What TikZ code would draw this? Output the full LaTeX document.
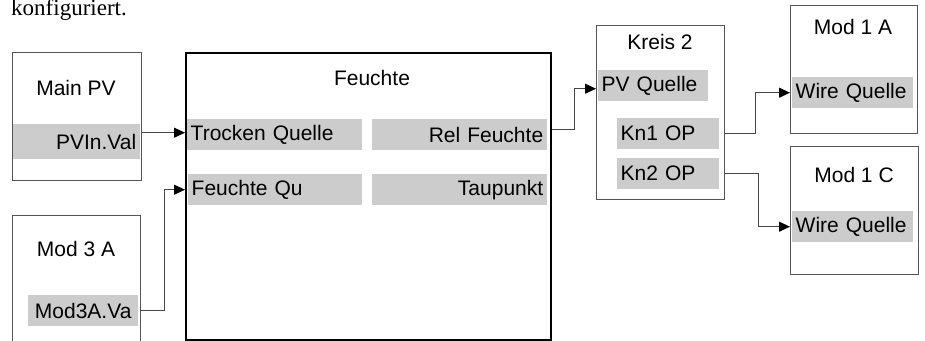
\documentclass[tikz,border=0pt]{standalone}
\usepackage{fontspec}
\setmainfont{Liberation Serif}
\setsansfont{Liberation Sans}
\usetikzlibrary{positioning,arrows.meta,calc}
\definecolor{ltgray}{RGB}{204,204,204}
\definecolor{boxgray}{RGB}{85,85,85}
\definecolor{linegray}{RGB}{70,70,70}

\begin{document}
\begin{tikzpicture}[x=1pt,y=-1pt,
  font=\sffamily\fontsize{21}{25}\selectfont,
  blockbox/.style={draw=boxgray,line width=1pt,inner sep=0pt,anchor=north west},
  port/.style={fill=ltgray,inner ysep=0pt,inner xsep=3.5pt,minimum height=31pt,anchor=north west},
  title/.style={inner sep=0pt},
  wire/.style={draw=linegray,line width=1pt,-{Triangle[length=11pt,width=10pt,color=black]}}]
\useasboundingbox (0,0) rectangle (925,340);
% Text above the diagram
\node[anchor=base west,inner sep=0pt,font=\rmfamily\fontsize{23}{27}\selectfont] (konf) at (11,16) {konfiguriert.};
% Main PV
\node[blockbox,minimum width=129pt,minimum height=128pt] (mainpv) at (12,52) {};
\node[title] (mainpvT) at (76,88) {Main PV};
\node[port,minimum width=127pt,minimum height=35pt,text width=119pt,align=right,inner xsep=4pt] (pvin) at (13,124) {PVIn.Val};
% Mod 3 A
\node[blockbox,minimum width=128pt,minimum height=132pt] (mod3a) at (12,215) {};
\node[title] (mod3aT) at (76,249) {Mod 3 A};
\node[port,minimum width=110pt,text width=103pt,align=center] (m3port) at (28,295) {Mod3A.Va};
% Feuchte
\node[blockbox,draw=black,line width=2pt,minimum width=365pt,minimum height=287pt] (feuchte) at (185,52) {};
\node[title] (feuchteT) at (372,78) {Feuchte};
\node[port,minimum width=175pt,text width=168pt,align=left] (trocken) at (187,119) {Trocken Quelle};
\node[port,minimum width=175pt,text width=167pt,align=right,inner xsep=4pt] (relf) at (372,119) {Rel Feuchte};
\node[port,minimum width=174pt,text width=167pt,align=left] (fqu) at (188,174) {Feuchte Qu};
\node[port,minimum width=175pt,text width=167pt,align=right,inner xsep=4pt] (taup) at (372,174) {Taupunkt};
% Kreis 2
\node[blockbox,minimum width=128pt,minimum height=174pt] (kreis) at (596,25) {};
\node[title] (kreisT) at (660,42) {Kreis 2};
\node[port,minimum width=110pt,text width=103pt,align=left] (pvq) at (598,70) {PV Quelle};
\node[port,minimum width=102pt,text width=95pt,align=left] (kn1) at (617,118) {Kn1 OP};
\node[port,minimum width=102pt,text width=95pt,align=left] (kn2) at (617,158) {Kn2 OP};
% Mod 1 A and Mod 1 C
\node[blockbox,minimum width=127pt,minimum height=128pt] (mod1a) at (790,5) {};
\node[title] (mod1aT) at (853,27) {Mod 1 A};
\node[port,minimum width=121pt,text width=114pt,align=left] (w1a) at (792,77) {Wire Quelle};
\node[blockbox,minimum width=128pt,minimum height=128pt] (mod1c) at (790,146) {};
\node[title] (mod1cT) at (854,175) {Mod 1 C};
\node[port,minimum width=121pt,text width=114pt,align=left] (w1c) at (792,211) {Wire Quelle};
% Wires
\draw[wire] ([yshift=2pt]mainpv.east |- trocken.west) -- ([yshift=2pt]feuchte.west |- trocken.west);
\draw[wire] (mod3a.east |- m3port) -- ++(23,0) |- (feuchte.west |- fqu);
\draw[wire] ([yshift=5pt]feuchte.east |- relf) -- ++(22,0) |- ([yshift=-3pt]kreis.west |- pvq);
\draw[wire] (kreis.east |- kn1) -- ++(30,0) |- (mod1a.west |- w1a);
\draw[wire] (kreis.east |- kn2) -- ++(33,0) |- (mod1c.west |- w1c);
\end{tikzpicture}
\end{document}
